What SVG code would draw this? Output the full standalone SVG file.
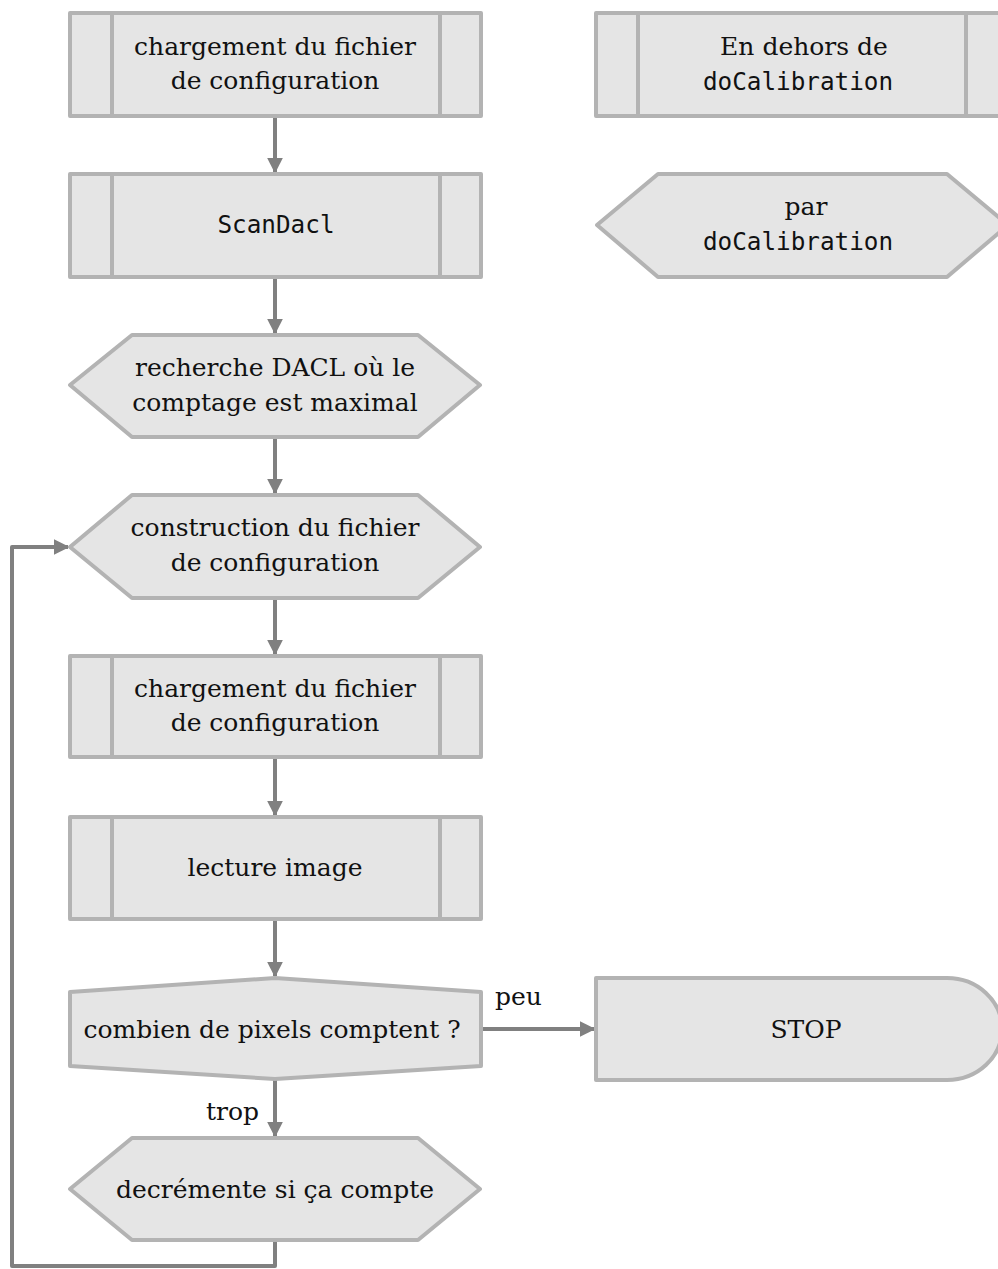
<svg xmlns="http://www.w3.org/2000/svg" width="998" height="1269" viewBox="0 0 998 1269">
<defs>
<style>
.n{fill:#e5e5e5;stroke:#b3b3b3;stroke-width:4;stroke-linejoin:round}
.d{fill:none;stroke:#b3b3b3;stroke-width:4}
.t{font-family:"DejaVu Serif",serif;font-size:25px;fill:#111;text-anchor:middle}
.m{font-family:"DejaVu Sans Mono",monospace;font-size:24.3px;fill:#111;text-anchor:middle}
.c{fill:none;stroke:#808080;stroke-width:4;stroke-linejoin:round}
.l{font-family:"DejaVu Serif",serif;font-size:25px;fill:#111}
</style>
<marker id="a" viewBox="0 0 10 10" refX="9" refY="5" markerWidth="4" markerHeight="4" orient="auto" markerUnits="strokeWidth">
<path d="M0,0 L10,5 L0,10 z" fill="#808080"/>
</marker>
</defs>
<g id="connectors">
<path class="c" d="M275,117 V172" marker-end="url(#a)"/>
<path class="c" d="M275,278 V333" marker-end="url(#a)"/>
<path class="c" d="M275,438 V493" marker-end="url(#a)"/>
<path class="c" d="M275,598 V654" marker-end="url(#a)"/>
<path class="c" d="M275,758 V815" marker-end="url(#a)"/>
<path class="c" d="M275,920 V976" marker-end="url(#a)"/>
<path class="c" d="M481,1029 H594" marker-end="url(#a)"/>
<path class="c" d="M275,1080 V1136" marker-end="url(#a)"/>
<path class="c" d="M275,1241 V1266 H12 V547 H68" marker-end="url(#a)"/>
<text class="l" x="495" y="1005">peu</text>
<text class="l" x="206" y="1120">trop</text>
</g>
<g id="n1">
<rect class="n" x="70" y="13" width="411" height="103"/>
<path class="d" d="M112,13 V116 M440,13 V116"/>
<text class="t" x="275" y="55">chargement du fichier</text>
<text class="t" x="275" y="89">de configuration</text>
</g>
<g id="n2">
<rect class="n" x="70" y="174" width="411" height="103"/>
<path class="d" d="M112,174 V277 M440,174 V277"/>
<text class="m" x="276" y="233">ScanDacl</text>
</g>
<g id="n3">
<polygon class="n" points="70,385 132,335 418,335 480,385 418,437 132,437"/>
<text class="t" x="275" y="376">recherche DACL où le</text>
<text class="t" x="275" y="411">comptage est maximal</text>
</g>
<g id="n4">
<polygon class="n" points="70,547 132,495 418,495 480,547 418,598 132,598"/>
<text class="t" x="275" y="536">construction du fichier</text>
<text class="t" x="275" y="571">de configuration</text>
</g>
<g id="n5">
<rect class="n" x="70" y="656" width="411" height="101"/>
<path class="d" d="M112,656 V757 M440,656 V757"/>
<text class="t" x="275" y="697">chargement du fichier</text>
<text class="t" x="275" y="731">de configuration</text>
</g>
<g id="n6">
<rect class="n" x="70" y="817" width="411" height="102"/>
<path class="d" d="M112,817 V919 M440,817 V919"/>
<text class="t" x="275" y="876">lecture image</text>
</g>
<g id="n7">
<polygon class="n" points="70,992 275,978 481,992 481,1066 275,1079 70,1066"/>
<text class="t" x="272" y="1038">combien de pixels comptent ?</text>
</g>
<g id="n8">
<polygon class="n" points="70,1189 132,1138 418,1138 480,1189 418,1240 132,1240"/>
<text class="t" x="275" y="1198">decrémente si ça compte</text>
</g>
<g id="n9">
<path class="n" d="M596,978 H947 A55,51 0 0 1 947,1080 H596 Z"/>
<text class="t" x="806" y="1038">STOP</text>
</g>
<g id="n10">
<rect class="n" x="596" y="13" width="412" height="103"/>
<path class="d" d="M638,13 V116 M966,13 V116"/>
<text class="t" x="804" y="55">En dehors de</text>
<text class="m" x="798" y="90">doCalibration</text>
</g>
<g id="n11">
<polygon class="n" points="597,225 658,174 947,174 1008,225 947,277 658,277"/>
<text class="t" x="806" y="215">par</text>
<text class="m" x="798" y="250">doCalibration</text>
</g>
</svg>
